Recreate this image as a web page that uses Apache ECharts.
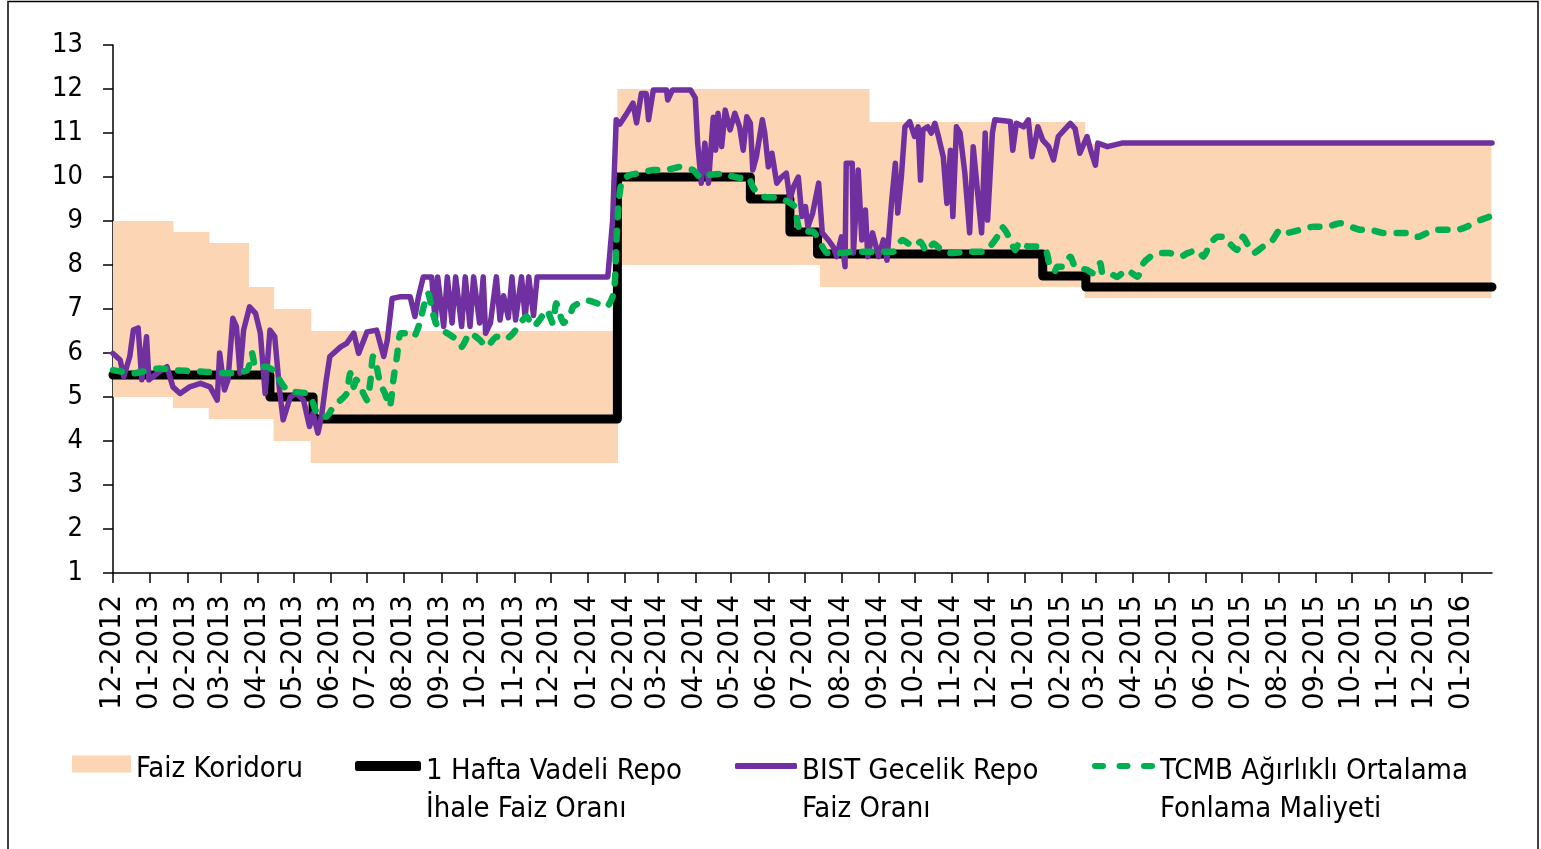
<!DOCTYPE html>
<html>
<head>
<meta charset="utf-8">
<title>Faiz Koridoru</title>
<script src="https://cdn.jsdelivr.net/npm/echarts@6/dist/echarts.min.js"></script>
<style>
  html, body { margin: 0; padding: 0; background: #fff; }
  #chart { width: 1541px; height: 849px; }
</style>
</head>
<body>
<div id="chart"></div>
<script>
// x values are days counted from 01-12-2012
const monthLabels = [
  '12-2012', '01-2013', '02-2013', '03-2013', '04-2013', '05-2013', '06-2013', '07-2013',
  '08-2013', '09-2013', '10-2013', '11-2013', '12-2013', '01-2014', '02-2014', '03-2014',
  '04-2014', '05-2014', '06-2014', '07-2014', '08-2014', '09-2014', '10-2014', '11-2014',
  '12-2014', '01-2015', '02-2015', '03-2015', '04-2015', '05-2015', '06-2015', '07-2015',
  '08-2015', '09-2015', '10-2015', '11-2015', '12-2015', '01-2016'
]
const yTicks = [1, 2, 3, 4, 5, 6, 7, 8, 9, 10, 11, 12, 13]
const lastDay = 1151

// Faiz Koridoru (alt / üst sınır), each value holds until the next day in the list
const corridorDay = [0, 50, 80, 113, 134, 165, 421, 590, 631, 811, 1150]
const corridorLow = [5, 4.75, 4.5, 4.5, 4.0, 3.5, 8, 7.5, 7.5, 7.25, 7.25]
const corridorHigh = [9, 8.75, 8.5, 7.5, 7.0, 6.5, 12, 12, 11.25, 10.75, 10.75]

// 1 Hafta Vadeli Repo İhale Faiz Oranı
const repoDay = [0, 131, 167, 421, 532, 565, 588, 776, 812, 1151]
const repoRate = [5.5, 5.0, 4.5, 10, 9.5, 8.75, 8.25, 7.75, 7.5, 7.5]

// BIST Gecelik Repo Faiz Oranı
const bistDay = [
  0, 6, 9, 14, 17, 21, 24, 28, 30, 37, 45, 50, 56, 64, 73, 81, 87, 89, 93, 96,
  100, 103, 106, 109, 114, 119, 123, 127, 131, 135, 139, 142, 148, 153, 159, 164, 167, 171, 174, 178,
  181, 190, 195, 201, 205, 212, 220, 226, 229, 233, 240, 248, 252, 255, 259, 266, 269, 271, 276, 279,
  283, 286, 291, 294, 298, 301, 306, 309, 311, 315, 320, 323, 326, 330, 333, 336, 341, 344, 347, 351,
  354, 413, 417, 420, 423, 429, 434, 437, 441, 445, 447, 451, 462, 463, 467, 482, 486, 488, 491, 494,
  497, 501, 503, 505, 508, 511, 515, 519, 523, 526, 529, 532, 534, 537, 542, 544, 547, 550, 554, 558,
  562, 565, 568, 572, 575, 578, 580, 584, 589, 592, 597, 601, 604, 608, 611, 612, 617, 618, 622, 625,
  628, 630, 634, 639, 643, 646, 650, 653, 655, 658, 661, 665, 669, 672, 674, 676, 680, 683, 686, 689,
  693, 696, 699, 701, 704, 707, 711, 715, 718, 722, 725, 728, 730, 734, 736, 749, 751, 754, 760, 764,
  767, 770, 772, 776, 781, 785, 789, 799, 803, 807, 813, 816, 820, 822, 830, 842, 1151
]
const bistRate = [
  5.99, 5.84, 5.46, 5.92, 6.52, 6.57, 5.39, 6.37, 5.39, 5.54, 5.69, 5.23, 5.08, 5.23, 5.31, 5.23, 4.93, 6.0, 5.16, 5.39,
  6.79, 6.6, 5.54, 6.52, 7.05, 6.9, 6.45, 5.08, 6.52, 6.37, 5.16, 4.48, 5.0, 5.08, 4.93, 4.33, 4.63, 4.18, 4.55, 5.39,
  5.92, 6.14, 6.22, 6.45, 5.99, 6.48, 6.52, 5.92, 6.3, 7.24, 7.28, 7.28, 6.83, 7.28, 7.73, 7.73, 6.68, 7.73, 6.6, 7.73,
  6.68, 7.73, 6.6, 7.73, 6.6, 7.73, 6.68, 7.73, 6.45, 6.68, 7.73, 6.75, 7.3, 6.8, 7.73, 6.75, 7.73, 6.8, 7.73, 6.85,
  7.73, 7.73, 9.0, 11.3, 11.2, 11.45, 11.68, 11.23, 11.9, 11.9, 11.3, 11.98, 11.98, 11.75, 11.98, 11.98, 11.8, 10.77, 9.86, 10.77,
  9.86, 11.36, 10.61, 11.45, 10.69, 11.52, 11.07, 11.45, 11.14, 10.61, 11.37, 11.22, 10.16, 10.46, 11.3, 11.0, 10.23, 10.54, 9.86, 10.0,
  10.09, 9.48, 9.78, 10.0, 9.1, 9.33, 8.87, 9.18, 9.86, 8.73, 8.57, 8.42, 8.19, 8.64, 7.96, 10.31, 10.31, 8.27, 10.16, 8.57,
  9.25, 8.19, 8.73, 8.19, 8.57, 8.11, 9.48, 10.31, 9.18, 10.0, 11.14, 11.26, 10.92, 11.14, 9.93, 11.07, 11.14, 11.0, 11.22, 10.92,
  10.46, 9.4, 10.61, 9.1, 11.14, 11.0, 10.09, 8.73, 10.69, 9.55, 8.73, 11.0, 9.02, 11.0, 11.3, 11.26, 10.61, 11.22, 11.14, 11.3,
  10.46, 10.84, 11.14, 10.84, 10.69, 10.39, 10.92, 11.22, 11.1, 10.54, 10.92, 10.61, 10.27, 10.77, 10.69, 10.77, 10.77
]

// TCMB Ağırlıklı Ortalama Fonlama Maliyeti
const tcmbDay = [
  0, 17, 39, 50, 73, 95, 112, 116, 119, 128, 137, 139, 145, 150, 162, 166, 169, 173, 178, 184,
  190, 195, 198, 201, 203, 209, 212, 215, 217, 220, 223, 227, 231, 234, 237, 240, 245, 251, 255, 263,
  267, 271, 279, 287, 291, 298, 306, 312, 320, 327, 334, 340, 345, 351, 356, 362, 367, 370, 376, 382,
  384, 395, 404, 412, 417, 419, 420, 422, 425, 432, 440, 451, 462, 473, 484, 491, 498, 507, 515, 523,
  530, 534, 538, 543, 557, 569, 571, 574, 584, 590, 596, 607, 618, 640, 651, 659, 668, 674, 679, 685,
  690, 699, 713, 726, 732, 738, 742, 746, 750, 753, 757, 764, 771, 779, 782, 786, 788, 793, 799, 803,
  813, 818, 824, 826, 832, 838, 846, 855, 860, 866, 874, 882, 891, 897, 905, 910, 916, 922, 927, 932,
  938, 943, 952, 960, 968, 974, 980, 991, 1002, 1013, 1024, 1033, 1041, 1049, 1060, 1072, 1080, 1089, 1097, 1105,
  1114, 1122, 1130, 1135, 1141, 1149
]
const tcmbRate = [
  5.61, 5.54, 5.65, 5.61, 5.58, 5.54, 5.61, 6.0, 5.69, 5.69, 5.54, 5.39, 5.16, 5.12, 5.08, 4.93, 4.7, 4.55, 4.55, 4.78,
  4.93, 5.08, 5.54, 5.23, 5.39, 5.08, 4.93, 5.39, 5.92, 5.69, 5.31, 5.08, 4.78, 5.39, 5.92, 6.45, 6.45, 6.37, 6.6, 7.36,
  6.9, 6.6, 6.45, 6.3, 6.14, 6.45, 6.3, 6.14, 6.37, 6.3, 6.45, 6.68, 6.83, 6.6, 6.75, 6.98, 6.68, 7.13, 6.68, 6.9,
  7.05, 7.2, 7.13, 7.05, 7.28, 7.66, 8.42, 9.41, 9.93, 10.05, 10.09, 10.16, 10.16, 10.23, 10.16, 9.98, 10.05, 10.07, 10.03, 9.98,
  10.0, 9.78, 9.63, 9.55, 9.52, 9.33, 9.02, 8.76, 8.76, 8.53, 8.27, 8.27, 8.3, 8.3, 8.3, 8.57, 8.42, 8.53, 8.3, 8.49,
  8.38, 8.27, 8.3, 8.3, 8.42, 8.64, 8.87, 8.73, 8.49, 8.34, 8.53, 8.42, 8.42, 8.3, 7.96, 7.85, 7.96, 7.96, 8.19, 7.96,
  7.89, 7.81, 8.04, 7.81, 7.81, 7.73, 7.89, 7.73, 8.04, 8.19, 8.27, 8.27, 8.19, 8.27, 8.34, 8.19, 8.49, 8.64, 8.64, 8.49,
  8.34, 8.64, 8.27, 8.42, 8.57, 8.8, 8.73, 8.8, 8.87, 8.87, 8.95, 8.87, 8.8, 8.8, 8.73, 8.73, 8.73, 8.64, 8.73, 8.8,
  8.8, 8.8, 8.87, 8.95, 9.02, 9.1
]

const t0 = Date.UTC(2012, 11, 1)
const monthDays = monthLabels.map(s => {
  const [m, y] = s.split('-').map(Number)
  return Math.round((Date.UTC(y, m - 1, 1) - t0) / 86400000)
})
const pairs = (days, vals) => days.map((d, i) => [d, vals[i]])

// corridor segments: [fromDay, toDay, low, high]
const corridorSegments = corridorDay.slice(0, -1).map((d, i) =>
  [d, corridorDay[i + 1], corridorLow[i], corridorHigh[i]])

const peach = '#FCD5B5'
const green = '#00B050'
const purple = '#7030A0'
const fontBody = "'DejaVu Sans Condensed', 'Liberation Sans Narrow', 'DejaVu Sans', sans-serif"

const nameCorridor = 'Faiz Koridoru'
const nameRepo = '1 Hafta Vadeli Repo\nİhale Faiz Oranı'
const nameBist = 'BIST Gecelik Repo\nFaiz Oranı'
const nameTcmb = 'TCMB Ağırlıklı Ortalama\nFonlama Maliyeti'

// three rounded dashes for the legend of the dashed series
const dashIcon = 'path://' + [0, 24.5, 49].map(o =>
  `M${o + 3},0H${o + 11}A3,3 0 0 1 ${o + 11},6H${o + 3}A3,3 0 0 1 ${o + 3},0Z`).join('')

// legend text sits a little lower than its icon, as in Excel: a thin spacer line on top
const legendText = {
  color: '#000',
  fontFamily: fontBody,
  fontSize: 29,
  lineHeight: 38,
  rich: {
    s1: { fontSize: 2, lineHeight: 10 },
    s2: { fontSize: 2, lineHeight: 48 }
  }
}

const chart = echarts.init(document.getElementById('chart'), null, { renderer: 'canvas' })

chart.setOption({
  animation: false,
  backgroundColor: '#fff',
  graphic: [{
    type: 'rect',
    shape: { x: 8, y: 1.5, width: 1530, height: 900 },
    style: { fill: 'none', stroke: '#000', lineWidth: 1.5 },
    silent: true,
    z: 100
  }],
  grid: { left: 113, right: 49, top: 45, bottom: 276 },
  legend: [
    {
      left: 72, top: 740, padding: 0,
      itemWidth: 59, itemHeight: 17,
      textStyle: legendText,
      formatter: n => '{s1| }\n' + n,
      data: [{ name: nameCorridor, icon: 'rect', itemStyle: { color: peach } }]
    },
    {
      left: 355, top: 704, padding: 0,
      itemWidth: 66, itemHeight: 10,
      textStyle: legendText,
      formatter: n => '{s2| }\n' + n,
      data: [{ name: nameRepo, icon: 'roundRect', itemStyle: { color: '#000' } }]
    },
    {
      left: 735, top: 704, padding: 0,
      itemWidth: 62, itemHeight: 6,
      textStyle: legendText,
      formatter: n => '{s2| }\n' + n,
      data: [{ name: nameBist, icon: 'roundRect', itemStyle: { color: purple } }]
    },
    {
      left: 1092, top: 704, padding: 0,
      itemWidth: 63, itemHeight: 6,
      textStyle: legendText,
      formatter: n => '{s2| }\n' + n,
      data: [{ name: nameTcmb, icon: dashIcon, itemStyle: { color: green } }]
    }
  ],
  xAxis: {
    type: 'value',
    min: 0,
    max: lastDay,
    splitLine: { show: false },
    axisLine: { lineStyle: { color: '#000', width: 1.5 } },
    axisTick: {
      show: true, length: 10, inside: false,
      customValues: monthDays,
      lineStyle: { color: '#000', width: 1.5 }
    },
    axisLabel: {
      customValues: monthDays,
      rotate: 90,
      margin: 22,
      color: '#000',
      fontFamily: "'DejaVu Sans', sans-serif",
      fontSize: 27.5,
      formatter: v => monthLabels[monthDays.indexOf(Math.round(v))] || ''
    }
  },
  yAxis: {
    type: 'value',
    min: yTicks[0],
    max: yTicks[yTicks.length - 1],
    interval: 1,
    splitLine: { show: false },
    axisLine: { show: true, lineStyle: { color: '#000', width: 1.5 } },
    axisTick: { show: true, length: 10, lineStyle: { color: '#000', width: 1.5 } },
    axisLabel: {
      margin: 30,
      color: '#000',
      fontFamily: fontBody,
      fontSize: 27
    }
  },
  series: [
    {
      name: nameCorridor,
      type: 'custom',
      silent: true,
      itemStyle: { color: peach },
      encode: { x: [0, 1], y: [2, 3] },
      renderItem: (params, api) => {
        const p1 = api.coord([api.value(0), api.value(3)])
        const p2 = api.coord([api.value(1), api.value(2)])
        return {
          type: 'rect',
          shape: { x: p1[0], y: p1[1], width: p2[0] - p1[0] + 0.6, height: p2[1] - p1[1] },
          style: { fill: peach }
        }
      },
      data: corridorSegments
    },
    {
      name: nameRepo,
      type: 'line',
      step: 'end',
      symbol: 'none',
      itemStyle: { color: '#000' },
      lineStyle: { color: '#000', width: 9, join: 'round', cap: 'round' },
      data: pairs(repoDay, repoRate)
    },
    {
      name: nameBist,
      type: 'line',
      symbol: 'none',
      itemStyle: { color: purple },
      lineStyle: { color: purple, width: 5.5, join: 'round', cap: 'round' },
      data: pairs(bistDay, bistRate)
    },
    {
      name: nameTcmb,
      type: 'line',
      symbol: 'none',
      smooth: 0.2,
      itemStyle: { color: green },
      lineStyle: { color: green, width: 6.5, type: [9, 13], cap: 'round', join: 'round' },
      data: pairs(tcmbDay, tcmbRate)
    }
  ]
})
</script>
</body>
</html>
